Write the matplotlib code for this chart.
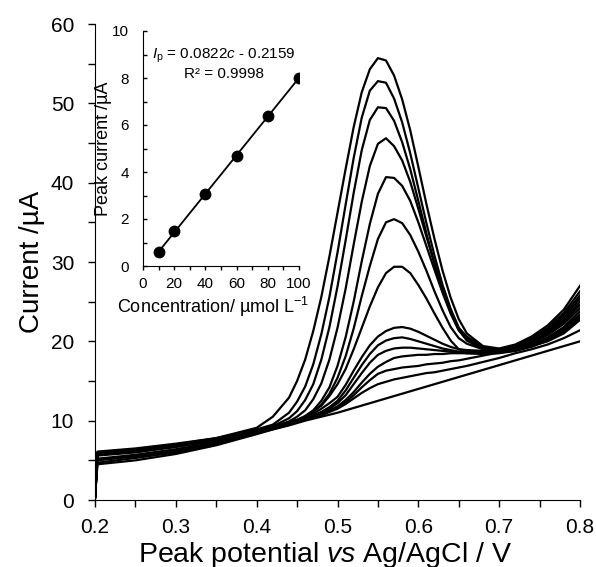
import numpy as np
import matplotlib
matplotlib.use("Agg")
import matplotlib.pyplot as plt
from matplotlib.ticker import MultipleLocator, FormatStrFormatter

plt.rcParams['font.family'] = ['Liberation Sans', 'DejaVu Sans']
plt.rcParams['mathtext.fontset'] = 'custom'
plt.rcParams['mathtext.rm'] = 'Liberation Sans'
plt.rcParams['mathtext.it'] = 'Liberation Sans:italic'

# potential grid (V) shared by all voltammograms
potential = [0.200, 0.203, 0.25, 0.30, 0.35, 0.40, 0.42, 0.44,
             0.45, 0.46, 0.47, 0.48, 0.49, 0.50, 0.51, 0.52, 0.53, 0.54, 0.55,
             0.56, 0.57, 0.58, 0.59, 0.60, 0.61, 0.62, 0.63, 0.64, 0.65, 0.66,
             0.68, 0.70, 0.72, 0.74, 0.76, 0.78, 0.80]

# currents (uA), highest concentration first
c1 = [0.3, 6.1, 6.5, 7.1, 7.8, 9.1, 10.5, 12.9, 15.0, 17.7, 21.3, 25.6, 30.7, 36.2, 41.7, 47.0, 51.4, 54.3, 55.7,
      55.4, 53.5, 50.5, 46.6, 42.0, 37.3, 32.9, 28.9, 25.5, 22.8, 21.0, 19.4, 19.1, 19.6, 20.6, 22.0, 24.0, 27.0]
c2 = [0.3, 6.0, 6.4, 7.0, 7.8, 8.9, 9.5, 11.0, 12.4, 14.3, 17.1, 20.9, 25.6, 31.2, 37.2, 43.1, 48.2, 51.6, 52.8,
      52.6, 50.6, 47.6, 43.7, 39.3, 34.9, 30.8, 27.1, 24.1, 21.7, 20.6, 19.3, 19.0, 19.5, 20.4, 21.7, 23.6, 26.3]
c3 = [0.3, 6.0, 6.4, 7.0, 7.7, 8.8, 9.3, 10.3, 11.2, 12.6, 14.6, 17.7, 21.8, 26.9, 32.7, 38.7, 44.1, 47.9, 49.5,
      49.4, 47.8, 45.1, 41.7, 37.7, 33.6, 29.8, 26.4, 23.6, 21.4, 20.4, 19.2, 18.9, 19.4, 20.3, 21.5, 23.3, 25.8]
c4 = [0.3, 5.9, 6.3, 6.9, 7.7, 8.7, 9.2, 9.9, 10.5, 11.3, 12.7, 14.7, 17.7, 21.7, 26.6, 32.2, 37.6, 42.1, 44.9,
      45.6, 44.6, 42.8, 40.1, 36.7, 33.2, 29.8, 26.6, 23.9, 21.7, 20.3, 19.1, 18.9, 19.3, 20.2, 21.3, 23.0, 25.4]
c5 = [0.3, 5.9, 6.3, 6.9, 7.6, 8.7, 9.2, 9.8, 10.1, 10.6, 11.3, 12.5, 14.2, 16.9, 20.5, 25.0, 30.1, 34.8, 38.6,
      40.7, 40.6, 39.6, 37.7, 35.0, 32.0, 29.0, 26.1, 23.5, 21.4, 20.1, 19.0, 18.8, 19.2, 20.0, 21.1, 22.7, 25.0]
c6 = [0.3, 5.8, 6.2, 6.8, 7.6, 8.7, 9.2, 9.75, 10.0, 10.5, 11.1, 12.0, 13.4, 15.4, 18.1, 21.6, 25.7, 29.5, 32.9,
      35.0, 35.4, 34.9, 33.4, 31.3, 28.9, 26.3, 23.9, 21.8, 20.4, 19.7, 19.0, 18.8, 19.1, 19.9, 21.0, 22.5, 24.6]
c7 = [0.3, 5.8, 6.2, 6.8, 7.6, 8.6, 9.1, 9.8, 10.1, 10.5, 11.2, 11.9, 13.1, 14.6, 16.5, 19.0, 21.7, 24.4, 26.8,
      28.6, 29.4, 29.4, 28.6, 27.1, 25.4, 23.5, 21.7, 20.1, 19.0, 18.9, 18.8, 18.8, 19.1, 19.8, 20.8, 22.2, 24.2]
c8 = [0.3, 5.7, 6.1, 6.8, 7.5, 8.6, 9.1, 9.7, 10.0, 10.4, 10.9, 11.5, 12.2, 13.0, 14.5, 16.3, 18.0, 19.5, 20.6,
      21.3, 21.7, 21.8, 21.6, 21.2, 20.7, 20.2, 19.7, 19.3, 19.0, 18.8, 18.6, 18.7, 19.0, 19.6, 20.5, 21.8, 23.8]
c9 = [0.3, 5.7, 6.1, 6.7, 7.5, 8.6, 9.1, 9.7, 10.0, 10.3, 10.7, 11.1, 11.7, 12.5, 13.8, 15.4, 17.0, 18.4, 19.5,
      20.1, 20.4, 20.5, 20.3, 20.0, 19.7, 19.4, 19.1, 18.9, 18.7, 18.6, 18.5, 18.6, 18.9, 19.5, 20.4, 21.6, 23.4]
c10 = [0.3, 5.6, 6.0, 6.7, 7.5, 8.5, 9.1, 9.6, 9.9, 10.2, 10.6, 11.0, 11.5, 12.2, 13.2, 14.6, 16.0, 17.3, 18.3,
       18.8, 19.1, 19.2, 19.2, 19.1, 19.0, 18.9, 18.8, 18.7, 18.6, 18.5, 18.4, 18.5, 18.8, 19.4, 20.3, 21.4, 23.1]
c11 = [0.3, 5.2, 5.7, 6.4, 7.3, 8.5, 9.0, 9.6, 9.9, 10.2, 10.5, 10.9, 11.3, 11.8, 12.6, 13.6, 14.8, 15.9, 16.8,
       17.4, 17.9, 18.1, 18.2, 18.3, 18.3, 18.4, 18.4, 18.5, 18.5, 18.5, 18.5, 18.6, 18.8, 19.3, 20.1, 21.2, 22.9]
c12 = [0.3, 5.0, 5.5, 6.2, 7.2, 8.4, 9.0, 9.6, 9.8, 10.1, 10.4, 10.8, 11.2, 11.6, 12.3, 13.2, 14.2, 15.1, 15.9,
       16.3, 16.5, 16.7, 16.8, 16.9, 17.1, 17.2, 17.3, 17.5, 17.6, 17.8, 18.2, 18.6, 19.0, 19.4, 20.0, 21.0, 22.7]
c13 = [0.3, 4.7, 5.3, 6.0, 7.0, 8.4, 8.9, 9.5, 9.8, 10.1, 10.4, 10.7, 11.1, 11.5, 12.1, 12.8, 13.5, 14.1, 14.6,
       14.9, 15.2, 15.4, 15.6, 15.8, 16.0, 16.1, 16.3, 16.5, 16.7, 16.9, 17.4, 17.9, 18.5, 19.0, 19.6, 20.4, 21.4]
c14 = [0.3, 4.5, 5.0, 5.8, 6.9, 8.3, 8.9, 9.4, 9.7, 10.0, 10.25, 10.5, 10.75, 11.0, 11.3, 11.6, 11.9, 12.2, 12.5,
       12.8, 13.1, 13.4, 13.7, 14.0, 14.3, 14.6, 14.9, 15.2, 15.5, 15.8, 16.4, 17.0, 17.6, 18.2, 18.8, 19.4, 20.0]
curves = [c1, c2, c3, c4, c5, c6, c7, c8, c9, c10, c11, c12, c13, c14]

# calibration inset
conc = [10, 20, 40, 60, 80, 100]
peak_current = [0.6, 1.5, 3.05, 4.7, 6.4, 8.0]
slope, intercept = 0.0822, -0.2159

fig = plt.figure(figsize=(5.96, 5.67), dpi=100)
ax = fig.add_axes([95/596, 1-500/567, 485/596, 476/567])

for cur in curves:
    ax.plot(potential, cur, color='black', lw=1.6, solid_joinstyle='round')

ax.set_xlim(0.2, 0.8)
ax.set_ylim(0, 60)
ax.xaxis.set_major_locator(MultipleLocator(0.1))
ax.xaxis.set_minor_locator(MultipleLocator(0.05))
ax.yaxis.set_major_locator(MultipleLocator(10))
ax.yaxis.set_minor_locator(MultipleLocator(5))
ax.xaxis.set_major_formatter(FormatStrFormatter('%g'))
ax.tick_params(which='both', direction='out', length=5, width=1, labelsize=15)
ax.tick_params(axis='y', pad=10)
ax.tick_params(axis='x', pad=8)
for side in ['top', 'right']:
    ax.spines[side].set_visible(False)
ax.set_xlabel(r'Peak potential $\it{vs}$ Ag/AgCl / V', fontsize=20.5)
ax.xaxis.set_label_coords(0.474, -0.084)
ax.set_ylabel(r'Current /µA', fontsize=20, labelpad=4)

# inset
ins = fig.add_axes([143/596, 1-266/567, 156/596, 235/567])
ins.patch.set_alpha(0)
fit_x = np.array([conc[0], conc[-1]])
ins.plot(fit_x, slope*fit_x + intercept, color='black', lw=1.3)
ins.plot(conc, peak_current, 'o', color='black', ms=7.5)
ins.set_xlim(0, 100)
ins.set_ylim(0, 10)
ins.xaxis.set_major_locator(MultipleLocator(20))
ins.xaxis.set_minor_locator(MultipleLocator(10))
ins.yaxis.set_major_locator(MultipleLocator(2))
ins.yaxis.set_minor_locator(MultipleLocator(1))
ins.tick_params(axis='x', which='both', direction='out', length=3, width=1, labelsize=11, pad=5)
ins.tick_params(axis='y', which='both', direction='in', length=3, width=1, labelsize=11, pad=10)
for side in ['top', 'right']:
    ins.spines[side].set_visible(False)
ins.set_xlabel(r'Concentration/ µmol L$^{-1}$', fontsize=13)
ins.xaxis.set_label_coords(0.45, -0.125)
ins.set_ylabel('Peak current /µA', fontsize=13)
ins.yaxis.set_label_coords(-0.2, 0.5)
ins.text(52, 8.95, r'$I_\mathrm{p}$ = 0.0822$c$ - 0.2159', ha='center', va='center', fontsize=11)
ins.text(52, 8.15, 'R² = 0.9998', ha='center', va='center', fontsize=11)

fig.savefig('out.png', dpi=100)
